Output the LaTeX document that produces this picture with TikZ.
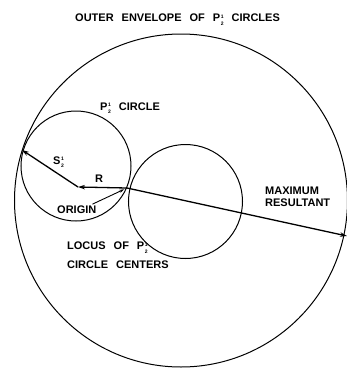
\documentclass[tikz,border=0pt]{standalone}
\usepackage{fontspec}
\setmainfont{Liberation Sans}
\usepackage{tikz}
\usetikzlibrary{arrows.meta}
\newcommand{\lettering}{\fontsize{11}{11.5}\selectfont\bfseries\spaceskip=8pt\relax}
\newcommand{\halfsub}{\kern0.6pt\raisebox{-3.6pt}{\fontsize{5}{5}\selectfont\shortstack{1\\[0.6pt]2}}}
\newcommand{\phalf}{P\halfsub}

\begin{document}
\begin{tikzpicture}[x=1pt, y=-1pt,
  lbl_/.style={inner sep=0pt, anchor=base west, align=left, font=\lettering},
  ring_/.style={circle, draw, line width=1pt, inner sep=0pt},
  arr/.style={-{Stealth[length=7pt,width=4.5pt]}, line width=1.3pt}
]
\useasboundingbox (0,0) rectangle (347,368);
\node[ring_, minimum size=333pt] (outer) at (181,200.5) {};
\node[ring_, minimum size=110pt] (pcircle) at (76,166) {};
\node[ring_, minimum size=114pt] (locus) at (185.5,201.5) {};
\coordinate (origin) at (127,188);
\coordinate (pcen) at (78,187);
\coordinate (stip) at (22,150);
\coordinate (rtip) at (347,236);

\draw[arr] (origin) -- (pcen);
\draw[arr] (pcen) -- (stip);
\draw[arr] (origin) -- (rtip);

\node[lbl_] (title) at (75,21.7) {OUTER ENVELOPE OF \phalf\ CIRCLES};
\node[lbl_] (plbl) at (100,110) {\phalf\ CIRCLE};
\node[lbl_] (slbl) at (53,164) {S\halfsub};
\node[lbl_] (rlbl) at (95,182) {R};
\node[lbl_] (orig) at (57,213) {ORIGIN};
\node[lbl_] (maxlbl) at (265,206) {MAXIMUM\\RESULTANT};
\node[lbl_] (loclbl) at (67,268) {LOCUS OF \phalf\\[7pt]CIRCLE CENTERS};

\draw[line width=0.9pt, -{Stealth[length=5pt,width=3pt]}, shorten >=3pt] ([xshift=-4pt,yshift=1pt]orig.north east) -- (origin);
\end{tikzpicture}
\end{document}
